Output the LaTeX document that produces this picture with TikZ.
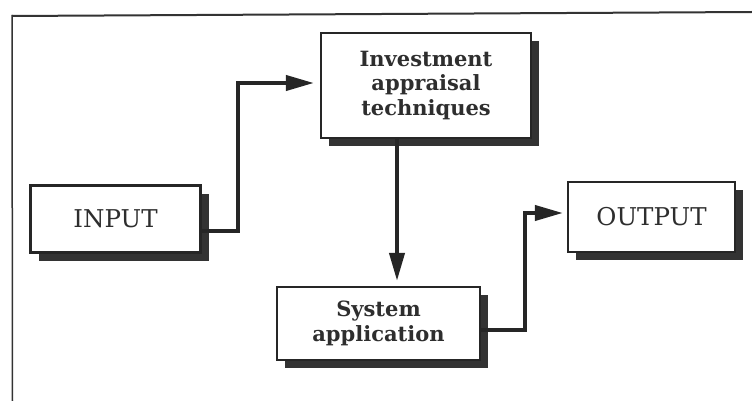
\documentclass[tikz,border=0pt]{standalone}
\usepackage{fontspec}
\setmainfont{DejaVu Serif}
\usetikzlibrary{arrows.meta,shadows}
\begin{document}
\begin{tikzpicture}[x=1pt,y=-1pt,
  blockbox/.style={draw=black!85,line width=2.2pt,fill=white,align=center,
    inner sep=0pt,text=black!82,
    drop shadow={shadow xshift=8pt,shadow yshift=-8pt,fill=black!80,opacity=1}},
  boldtext/.style={font=\fontsize{21}{24.5}\selectfont\bfseries},
  plaintext/.style={font=\fontsize{24.5}{27}\selectfont},
  flow/.style={draw=black!85,line width=4pt,
    -{Triangle[length=28pt,width=15pt]},shorten >=6pt}]
\useasboundingbox (0,0) rectangle (752,401);
% frame
\draw[black!80,line width=2pt] (752,12) -- (12,16);
\draw[black!80,line width=1.5pt] (12,15) -- (12.5,401);
% boxes
\node[blockbox,boldtext,minimum width=210pt,minimum height=105pt] (inv) at (426,85.5)
  {Investment\\appraisal\\techniques};
\node[blockbox,plaintext,minimum width=170pt,minimum height=67pt] (in) at (115.5,219) {INPUT};
\node[blockbox,boldtext,minimum width=203pt,minimum height=73pt] (sys) at (378.5,323.5)
  {System\\application};
\node[blockbox,plaintext,minimum width=167pt,minimum height=70pt] (out) at (651.5,217) {OUTPUT};
% connectors
\coordinate (k1) at (238,83);
\coordinate (k2) at (525,213);
\draw[flow] ([yshift=-12pt]in.east) -| (k1) -- (inv.west |- k1);
\draw[flow,shorten >=5pt] ([xshift=-29pt]inv.south) -- ([xshift=18.5pt]sys.north);
\draw[flow,shorten >=4pt] ([yshift=-6pt]sys.east) -| (k2) -- (out.west |- k2);
\end{tikzpicture}
\end{document}
